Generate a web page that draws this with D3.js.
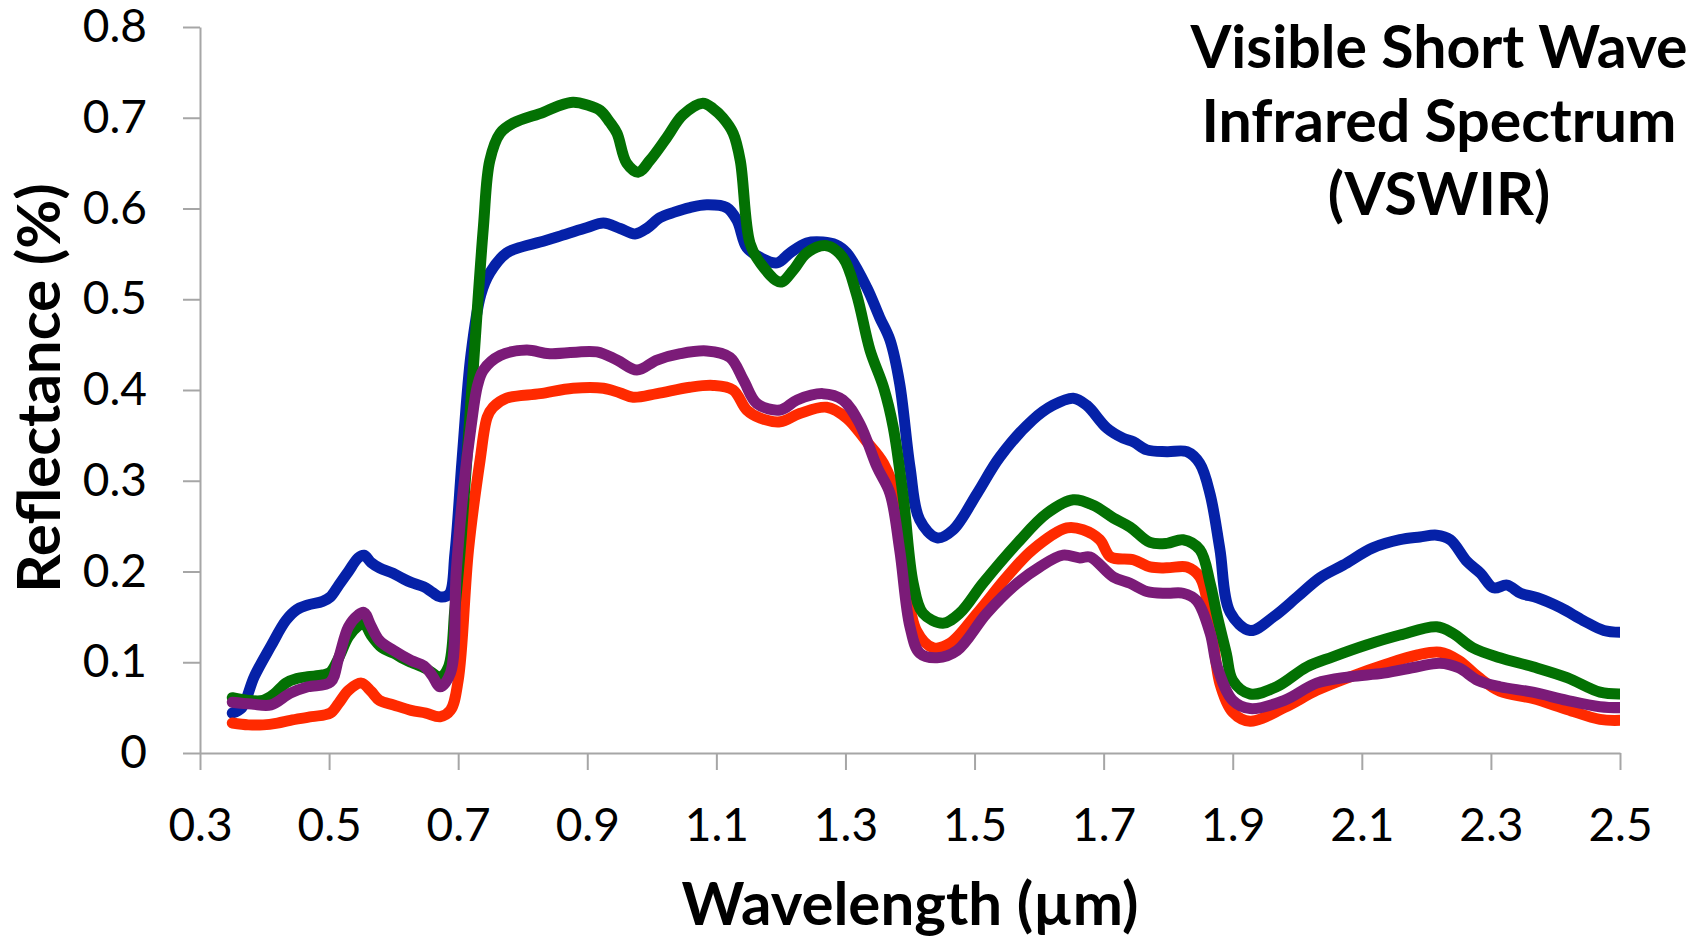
<!DOCTYPE html>
<html>
<head>
<meta charset="utf-8">
<script src="https://cdn.jsdelivr.net/npm/d3@7"></script>
<style>
  body { margin: 0; background: #fff; }
  text { font-family: Lato, "Open Sans", sans-serif; fill: #000; }
</style>
</head>
<body>
<div id="svg_area"></div>
<script>
// Tick values
var xTicks = [0.3, 0.5, 0.7, 0.9, 1.1, 1.3, 1.5, 1.7, 1.9, 2.1, 2.3, 2.5];
var yTicks = [0, 0.1, 0.2, 0.3, 0.4, 0.5, 0.6, 0.7, 0.8];

// Series: [wavelength (um), reflectance]
var blueData = [[0.35,0.044],[0.365,0.05],[0.384,0.084],[0.41,0.118],[0.433,0.146],[0.45,0.158],[0.467,0.163],[0.49,0.167],[0.502,0.172],[0.515,0.185],[0.53,0.20],[0.545,0.215],[0.554,0.218],[0.565,0.21],[0.578,0.204],[0.599,0.198],[0.615,0.192],[0.627,0.188],[0.647,0.183],[0.66,0.177],[0.672,0.172],[0.686,0.175],[0.695,0.22],[0.706,0.323],[0.72,0.44],[0.735,0.505],[0.749,0.529],[0.775,0.551],[0.8,0.558],[0.827,0.563],[0.868,0.572],[0.9,0.579],[0.925,0.584],[0.951,0.578],[0.974,0.572],[0.992,0.578],[1.013,0.59],[1.035,0.596],[1.059,0.601],[1.085,0.604],[1.116,0.601],[1.132,0.587],[1.147,0.557],[1.168,0.546],[1.194,0.54],[1.214,0.551],[1.24,0.562],[1.265,0.563],[1.285,0.56],[1.302,0.551],[1.333,0.513],[1.353,0.48],[1.369,0.455],[1.384,0.407],[1.40,0.315],[1.415,0.257],[1.442,0.237],[1.467,0.246],[1.504,0.286],[1.539,0.326],[1.59,0.367],[1.621,0.383],[1.653,0.391],[1.674,0.383],[1.705,0.358],[1.73,0.347],[1.746,0.343],[1.767,0.334],[1.798,0.332],[1.829,0.332],[1.849,0.319],[1.865,0.285],[1.88,0.225],[1.896,0.155],[1.927,0.135],[1.963,0.15],[2.0,0.172],[2.035,0.193],[2.071,0.207],[2.117,0.226],[2.159,0.235],[2.19,0.238],[2.216,0.24],[2.237,0.235],[2.263,0.211],[2.284,0.198],[2.304,0.182],[2.325,0.185],[2.346,0.176],[2.372,0.171],[2.408,0.16],[2.443,0.146],[2.475,0.135],[2.5,0.133]];

var redData = [[0.35,0.033],[0.375,0.031],[0.398,0.031],[0.42,0.033],[0.44,0.036],[0.473,0.040],[0.502,0.044],[0.515,0.055],[0.53,0.069],[0.55,0.077],[0.565,0.068],[0.578,0.058],[0.60,0.053],[0.627,0.047],[0.65,0.044],[0.672,0.040],[0.688,0.047],[0.70,0.08],[0.716,0.224],[0.734,0.323],[0.745,0.37],[0.754,0.381],[0.775,0.391],[0.827,0.396],[0.878,0.402],[0.925,0.402],[0.95,0.397],[0.971,0.392],[1.008,0.396],[1.059,0.403],[1.095,0.405],[1.126,0.40],[1.147,0.378],[1.168,0.369],[1.199,0.365],[1.229,0.374],[1.271,0.381],[1.302,0.369],[1.333,0.343],[1.359,0.319],[1.38,0.279],[1.395,0.187],[1.41,0.135],[1.436,0.116],[1.462,0.121],[1.504,0.154],[1.55,0.194],[1.59,0.224],[1.643,0.248],[1.668,0.246],[1.694,0.235],[1.711,0.216],[1.746,0.213],[1.772,0.205],[1.798,0.204],[1.829,0.205],[1.849,0.194],[1.865,0.15],[1.88,0.077],[1.90,0.045],[1.927,0.035],[1.98,0.05],[2.03,0.069],[2.082,0.084],[2.134,0.097],[2.186,0.108],[2.221,0.111],[2.25,0.102],[2.28,0.084],[2.314,0.068],[2.365,0.06],[2.418,0.048],[2.469,0.037],[2.5,0.036]];

var greenData = [[0.35,0.061],[0.375,0.058],[0.398,0.058],[0.415,0.065],[0.433,0.077],[0.45,0.082],[0.467,0.084],[0.49,0.086],[0.502,0.089],[0.515,0.105],[0.53,0.128],[0.545,0.14],[0.554,0.143],[0.565,0.13],[0.582,0.116],[0.60,0.110],[0.615,0.104],[0.627,0.10],[0.65,0.093],[0.672,0.084],[0.685,0.095],[0.695,0.16],[0.705,0.24],[0.721,0.40],[0.739,0.579],[0.749,0.653],[0.765,0.683],[0.785,0.694],[0.832,0.706],[0.855,0.713],[0.878,0.717],[0.9,0.714],[0.92,0.708],[0.935,0.695],[0.946,0.683],[0.961,0.65],[0.979,0.64],[0.997,0.653],[1.023,0.678],[1.048,0.703],[1.079,0.716],[1.095,0.71],[1.11,0.70],[1.126,0.683],[1.137,0.653],[1.152,0.562],[1.168,0.54],[1.199,0.519],[1.219,0.532],[1.24,0.551],[1.271,0.559],[1.296,0.546],[1.317,0.506],[1.338,0.444],[1.359,0.403],[1.374,0.359],[1.39,0.279],[1.405,0.187],[1.42,0.154],[1.451,0.143],[1.477,0.154],[1.513,0.187],[1.566,0.231],[1.612,0.264],[1.653,0.279],[1.684,0.273],[1.715,0.259],[1.741,0.249],[1.772,0.232],[1.798,0.231],[1.823,0.235],[1.849,0.224],[1.865,0.187],[1.875,0.154],[1.89,0.11],[1.90,0.08],[1.927,0.065],[1.968,0.073],[2.015,0.095],[2.055,0.106],[2.107,0.119],[2.159,0.13],[2.216,0.139],[2.241,0.132],[2.272,0.116],[2.314,0.105],[2.365,0.095],[2.418,0.083],[2.469,0.067],[2.5,0.065]];

var purpleData = [[0.35,0.056],[0.38,0.054],[0.41,0.053],[0.44,0.066],[0.467,0.073],[0.502,0.078],[0.515,0.105],[0.53,0.139],[0.545,0.152],[0.554,0.155],[0.565,0.14],[0.578,0.124],[0.60,0.113],[0.627,0.102],[0.647,0.096],[0.66,0.085],[0.672,0.073],[0.688,0.088],[0.697,0.2],[0.708,0.29],[0.72,0.36],[0.73,0.405],[0.739,0.422],[0.765,0.438],[0.806,0.444],[0.842,0.44],[0.915,0.442],[0.946,0.433],[0.977,0.422],[1.008,0.433],[1.044,0.44],[1.085,0.443],[1.121,0.436],[1.142,0.411],[1.163,0.385],[1.199,0.378],[1.225,0.389],[1.265,0.396],[1.296,0.389],[1.322,0.363],[1.349,0.315],[1.369,0.286],[1.384,0.224],[1.40,0.139],[1.415,0.11],[1.442,0.105],[1.473,0.113],[1.519,0.154],[1.566,0.187],[1.601,0.205],[1.637,0.218],[1.663,0.215],[1.679,0.216],[1.715,0.194],[1.741,0.187],[1.767,0.178],[1.798,0.176],[1.823,0.176],[1.844,0.168],[1.865,0.132],[1.876,0.095],[1.90,0.058],[1.927,0.049],[1.98,0.058],[2.03,0.077],[2.082,0.084],[2.134,0.088],[2.186,0.095],[2.221,0.099],[2.25,0.094],[2.28,0.08],[2.314,0.073],[2.365,0.067],[2.418,0.058],[2.469,0.051],[2.5,0.05]];

var titleLines = ["Visible Short Wave", "Infrared Spectrum", "(VSWIR)"];

// SVG area and margins
var svgWidth = 1694;
var svgHeight = 937;
var margin = { top: 27, right: 74, bottom: 184, left: 200 };
var chartWidth = svgWidth - margin.left - margin.right;
var chartHeight = svgHeight - margin.top - margin.bottom;

var svg = d3.select("#svg_area")
  .append("svg")
  .attr("width", svgWidth)
  .attr("height", svgHeight);

var chartGroup = svg.append("g")
  .attr("transform", `translate(${margin.left}, ${margin.top})`);

var xScale = d3.scaleLinear().domain([0.3, 2.5]).range([0, chartWidth]);
var yScale = d3.scaleLinear().domain([0, 0.8]).range([chartHeight, 0]);

var axisColor = "#a6a6a6";

// left axis
var leftAxis = d3.axisLeft(yScale)
  .tickValues(yTicks)
  .tickFormat(d => d === 0 ? "0" : d3.format(".1f")(d))
  .tickSize(17)
  .tickSizeOuter(0)
  .tickPadding(36);

var yAxisG = chartGroup.append("g").call(leftAxis);

// bottom axis
var bottomAxis = d3.axisBottom(xScale)
  .tickValues(xTicks)
  .tickFormat(d3.format(".1f"))
  .tickSize(17)
  .tickSizeOuter(0)
  .tickPadding(38);

var xAxisG = chartGroup.append("g")
  .attr("transform", "translate(0, " + chartHeight + ")")
  .call(bottomAxis);

[yAxisG, xAxisG].forEach(function(g) {
  g.selectAll("path, line")
    .attr("stroke", axisColor)
    .attr("stroke-width", 2);
  g.selectAll("text")
    .attr("font-family", "Lato, 'Open Sans', sans-serif")
    .attr("font-size", "46px")
    .attr("fill", "#000");
});

// clip lines to the plot area
chartGroup.append("clipPath")
  .attr("id", "plotClip")
  .append("rect")
  .attr("x", -20)
  .attr("y", -20)
  .attr("width", chartWidth + 20)
  .attr("height", chartHeight + 40);

var line = d3.line()
  .x(d => xScale(d[0]))
  .y(d => yScale(d[1]))
  .curve(d3.curveCatmullRom.alpha(0.5));

var seriesList = [
  { data: blueData, color: "#0521a8" },
  { data: redData, color: "#ff2a00" },
  { data: greenData, color: "#037103" },
  { data: purpleData, color: "#7b1b78" }
];

chartGroup.append("g")
  .attr("clip-path", "url(#plotClip)")
  .selectAll("path")
  .data(seriesList)
  .enter()
  .append("path")
  .attr("d", d => line(d.data))
  .attr("fill", "none")
  .attr("stroke", d => d.color)
  .attr("stroke-width", 11)
  .attr("stroke-linejoin", "round")
  .attr("stroke-linecap", "round");

// axis titles
svg.append("text")
  .attr("x", margin.left + chartWidth / 2)
  .attr("y", 925)
  .attr("text-anchor", "middle")
  .attr("font-size", "60px")
  .attr("font-weight", "bold")
  .text("Wavelength (\u00b5m)");

svg.append("text")
  .attr("transform", "translate(60, 388) rotate(-90)")
  .attr("text-anchor", "middle")
  .attr("font-size", "60px")
  .attr("font-weight", "bold")
  .text("Reflectance (%)");

// chart title
svg.append("g")
  .selectAll("text")
  .data(titleLines)
  .enter()
  .append("text")
  .attr("x", 1439)
  .attr("y", (d, i) => 68 + i * 73.5)
  .attr("text-anchor", "middle")
  .attr("font-size", "59px")
  .attr("font-weight", "bold")
  .text(d => d);
</script>
</body>
</html>
